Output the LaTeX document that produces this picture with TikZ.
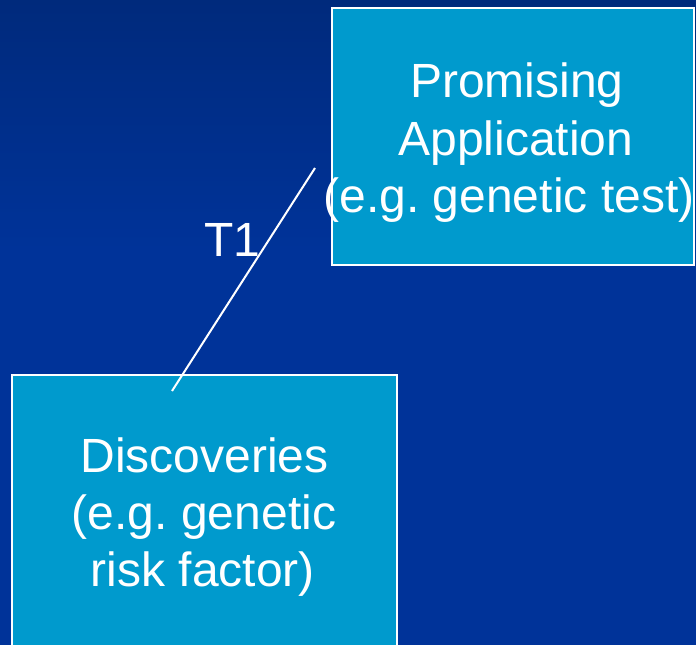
\documentclass[tikz,border=0pt]{standalone}
\usepackage{fontspec}
\setmainfont{Liberation Sans}
\frenchspacing
\definecolor{bgtop}{HTML}{002A7C}
\definecolor{bgbase}{HTML}{003399}
\definecolor{boxfill}{HTML}{009ACD}
\tikzset{
  stagebox/.style={draw=white, line width=1.5pt, fill=boxfill, inner sep=0pt},
  boxtext/.style={text=white, inner sep=0pt, anchor=base,
    font=\fontsize{48}{57}\selectfont},
  link/.style={draw=white, line width=2pt}
}
\begin{document}
\begin{tikzpicture}[x=1pt, y=-1pt]
  \useasboundingbox (0,0) rectangle (696,645);
  \clip (0,0) rectangle (696,645);
  % background: darker band at the top fading into the base blue
  \fill[bgbase] (0,0) rectangle (696,645);
  \shade[top color=bgtop, bottom color=bgbase] (0,0) rectangle (696,250);

  % stage boxes
  \node[stagebox, minimum width=362pt, minimum height=257pt] (app) at (513,136.5) {};
  \node[stagebox, minimum width=385pt, minimum height=325pt] (disc) at (204.5,537.5) {};

  % box labels
  \node[boxtext] (appA) at (517,97) {Promising};
  \node[boxtext] (appB) at (516,155) {Application};
  \node[boxtext] (appC) at (509,212) {(e.g. genetic test)};
  \node[boxtext] (discA) at (204.5,472) {Discoveries};
  \node[boxtext] (discB) at (204,529) {(e.g. genetic};
  \node[boxtext] (discC) at (203,586) {risk factor)};

  % translational step
  \coordinate (stepTop) at (315,168);
  \coordinate (stepBot) at (172,391);
  \draw[link] (stepBot) -- (stepTop);
  \node[boxtext] (tone) at (232.5,256) {T1};
\end{tikzpicture}
\end{document}
